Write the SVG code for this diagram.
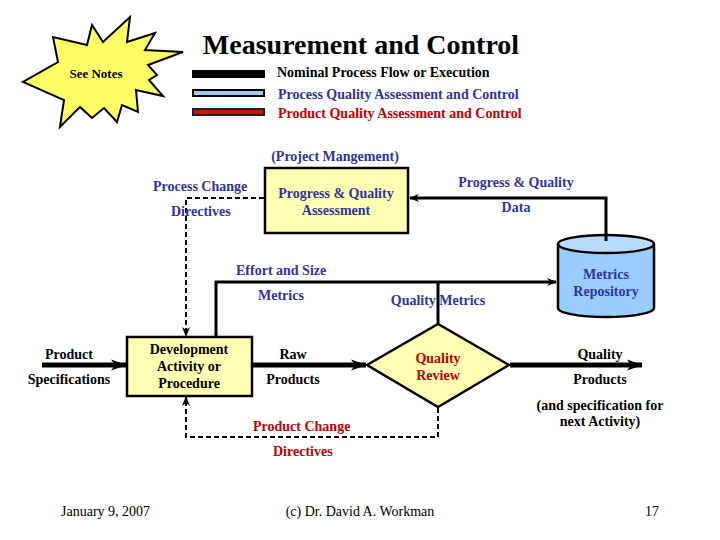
<svg xmlns="http://www.w3.org/2000/svg" width="720" height="540" viewBox="0 0 720 540" font-family="'Liberation Serif', 'DejaVu Serif', serif">
<style>
text{font-family:'Liberation Serif','DejaVu Serif',serif;font-size:14px;font-weight:bold}
.n{fill:#333399}.r{fill:#c00000}.k{fill:#000}
.c{text-anchor:middle}
.f{font-weight:normal;font-size:14px}
.box{fill:#ffffb3;stroke:#000;stroke-width:2.5}
.thick{stroke:#000;stroke-width:5;fill:none}
.med{stroke:#000;stroke-width:3;fill:none}
.dash{stroke:#000;stroke-width:2;fill:none;stroke-dasharray:5,3}
</style>
<defs>
<marker id="ah" markerWidth="10" markerHeight="10" refX="9" refY="5" orient="auto" markerUnits="userSpaceOnUse">
<path d="M0,1 L10,5 L0,9 L3,5 Z" fill="#000"/>
</marker>
<marker id="ahL" markerWidth="16" markerHeight="12" refX="15" refY="6" orient="auto" markerUnits="userSpaceOnUse">
<path d="M0,0.5 L16,6 L0,11.5 L4,6 Z" fill="#000"/>
</marker>
</defs>
<rect width="720" height="540" fill="#fff"/>

<g id="starburst">
<polygon points="130,17 127,42 155,33 145,50 183,52 148,65 157,75 149,80 163,96 136,90 138,112 122,105 117,122 104,108 92,118 80,107 60,127 64,100 23,82 58,62 53,37 87,45 92,25 103,42" fill="#ffff66" stroke="#000" stroke-width="2"/>
<text x="96" y="78" class="c k" style="font-size:13px">See Notes</text>
</g>

<g id="title"><text x="361" y="54" class="c k" style="font-size:28px">Measurement and Control</text></g>

<g id="legend">
<rect x="192" y="70" width="73" height="8" fill="#000"/>
<rect x="193" y="90" width="71" height="6" fill="#a6c8ee" stroke="#000" stroke-width="2"/>
<rect x="193" y="109" width="71" height="6" fill="#cc1111" stroke="#222" stroke-width="2"/>
<text x="277" y="77" class="k">Nominal Process Flow or Execution</text>
<text x="278" y="99" class="n">Process Quality Assessment and Control</text>
<text x="278" y="118" class="r">Product Quality Assessment and Control</text>
</g>

<g id="assessment">
<text x="335" y="161" class="c n">(Project Mangement)</text>
<rect x="265" y="168" width="143" height="65" class="box"/>
<text x="336" y="198" class="c n">Progress &amp; Quality</text>
<text x="336" y="215" class="c n">Assessment</text>
</g>

<g id="repository">
<path d="M558,244 V308 A48,9 0 0 0 654,308 V244" fill="#99ccff" stroke="#000" stroke-width="2.5"/>
<ellipse cx="606" cy="244" rx="48" ry="9" fill="#b8dcff" stroke="#000" stroke-width="2.5"/>
<text x="606" y="279" class="c n">Metrics</text>
<text x="606" y="296" class="c n">Repository</text>
</g>

<g id="development">
<rect x="127" y="337" width="125" height="59" class="box"/>
<text x="189" y="354" class="c k">Development</text>
<text x="189" y="371" class="c k">Activity or</text>
<text x="189" y="388" class="c k">Procedure</text>
</g>

<g id="review">
<polygon points="367,365 438,324 509,365 438,407" fill="#ffffb3" stroke="#000" stroke-width="2.5"/>
<text x="438" y="363" class="c r">Quality</text>
<text x="438" y="380" class="c r">Review</text>
</g>

<g id="connectors">
<path d="M606,241 V198 H410" class="med" marker-end="url(#ah)"/>
<path d="M216,336 V282 H556" class="med" marker-end="url(#ah)"/>
<path d="M438,282 V323" class="med"/>
<path d="M42,365 H126" class="thick" marker-end="url(#ahL)"/>
<path d="M253,365 H366" class="thick" marker-end="url(#ahL)"/>
<path d="M510,365 H642" class="thick" marker-end="url(#ahL)"/>
<path d="M264,198 H186 V336" class="dash" marker-end="url(#ah)"/>
<path d="M438,408 V437 H186 V397" class="dash" marker-end="url(#ah)"/>
</g>

<g id="labels">
<text x="516" y="187" class="c n">Progress &amp; Quality</text>
<text x="516" y="212" class="c n">Data</text>
<text x="236" y="275" class="n">Effort and Size</text>
<text x="258" y="300" class="n">Metrics</text>
<text x="438" y="305" class="c n">Quality Metrics</text>
<text x="153" y="191" class="n">Process Change</text>
<text x="171" y="216" class="n">Directives</text>
<text x="69" y="359" class="c k">Product</text>
<text x="69" y="384" class="c k">Specifications</text>
<text x="293" y="359" class="c k">Raw</text>
<text x="293" y="384" class="c k">Products</text>
<text x="600" y="359" class="c k">Quality</text>
<text x="600" y="384" class="c k">Products</text>
<text x="600" y="410" class="c k">(and specification for</text>
<text x="600" y="426" class="c k">next Activity)</text>
<text x="253" y="431" class="r">Product Change</text>
<text x="273" y="456" class="r">Directives</text>
</g>

<g id="footer">
<text x="61" y="516" class="f k">January 9, 2007</text>
<text x="360" y="516" class="c f k">(c) Dr. David A. Workman</text>
<text x="659" y="516" class="f k" text-anchor="end">17</text>
</g>
</svg>
